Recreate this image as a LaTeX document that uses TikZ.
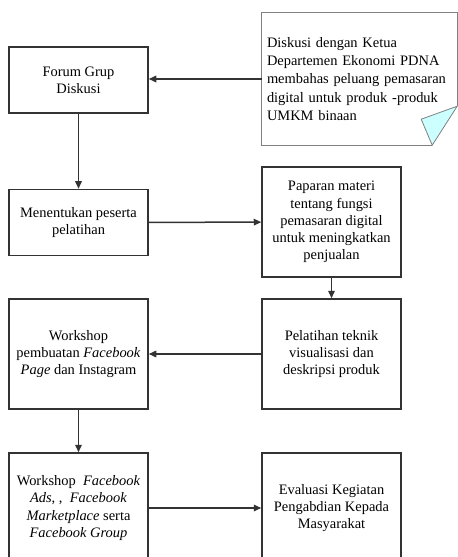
\documentclass[tikz,border=0pt]{standalone}
\usepackage{fontspec}
\setmainfont{Liberation Serif}
\usepackage{tikz}
\usetikzlibrary{arrows.meta, positioning, calc}
\definecolor{fgline}{HTML}{333333}
\definecolor{notegrey}{HTML}{808080}
\definecolor{foldcyan}{HTML}{CCFFFF}

\begin{document}
\begin{tikzpicture}[x=1bp, y=-1bp,
        font=\fontsize{14.5}{17.3}\selectfont,
        box/.style={draw=fgline, line width=1.5bp, fill=white, align=center,
                    minimum width=139bp, inner sep=2bp},
        smallbox/.style={box, minimum height=66bp},
        bigbox/.style={box, minimum height=110bp},
        notebox/.style={align=left, text width=185bp, inner xsep=5bp,
                        minimum width=195bp, minimum height=132bp,
                        font=\fontsize{14.5}{18.5}\selectfont},
        flow/.style={-{Triangle[length=7.5bp, width=6.5bp]}, fgline, line width=1.5bp}]
        \clip (0,0) rectangle (458,557);
        \node[smallbox] (forum) at (78.5,80) {Forum Grup\\Diskusi};
        \node[smallbox] (peserta) at (78.5,222.5) {Menentukan peserta\\pelatihan};
        \node[bigbox] (page) at (78.5,354) {Workshop\\pembuatan \textit{Facebook}\\\textit{Page} dan Instagram};
        \node[bigbox] (ads) at (78.5,508) {Workshop \ \textit{Facebook}\\\textit{Ads}, , \ \textit{Facebook}\\\textit{Marketplace} serta\\\textit{Facebook Group}};
        \node[bigbox] (materi) at (331.5,222) {Paparan materi\\tentang fungsi\\pemasaran digital\\untuk meningkatkan\\penjualan};
        \node[bigbox] (teknik) at (331.5,354) {Pelatihan teknik\\visualisasi dan\\deskripsi produk};
        \node[bigbox] (evaluasi) at (331.5,508) {Evaluasi Kegiatan\\Pengabdian Kepada\\Masyarakat};
        \node[notebox] (diskusi) at (359.5,79) {Diskusi dengan Ketua\\Departemen Ekonomi PDNA\\membahas peluang pemasaran\\digital untuk produk -produk\\UMKM binaan};
        % lembar catatan dengan sudut terlipat
        \draw[notegrey, line width=1bp]
          ($(diskusi.south east)+(-25,0)$) -- (diskusi.south west) -- (diskusi.north west)
          -- (diskusi.north east) -- ($(diskusi.south east)+(0,-39)$);
        \draw[notegrey, fill=foldcyan, line width=0.8bp]
          ($(diskusi.south east)+(-25,0)$) -- ($(diskusi.south east)+(0,-39)$)
          -- ($(diskusi.south east)+(-36,-26)$) -- cycle;
        \draw[flow] (diskusi.west) -- (diskusi.west -| forum.east);
        \draw[flow] (forum) -- (peserta);
        \draw[flow] (peserta) -- (materi);
        \draw[flow] (materi) -- (teknik);
        \draw[flow] (teknik) -- (page);
        \draw[flow] (page) -- (ads);
        \draw[flow] (ads) -- (evaluasi);
      \end{tikzpicture}
\end{document}
